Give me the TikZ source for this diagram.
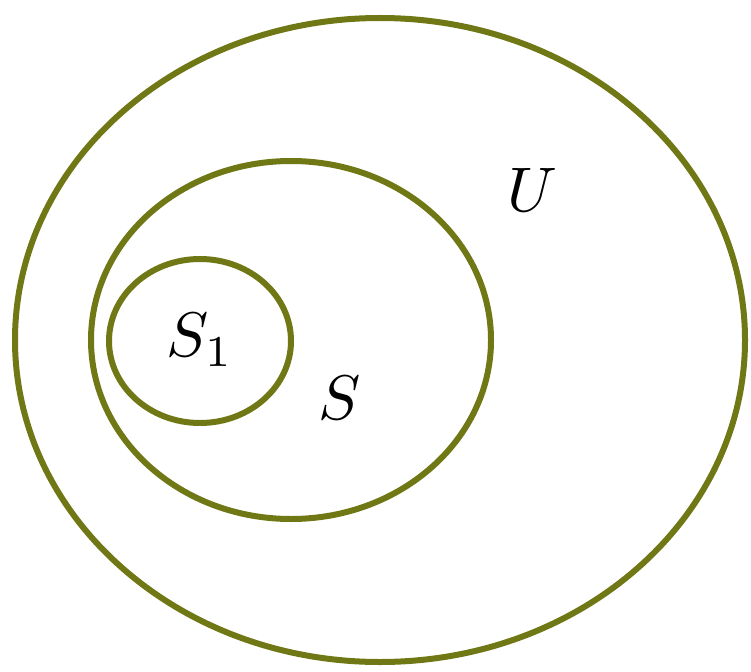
\documentclass[tikz,border=0pt]{standalone}
\begin{document}
\begin{tikzpicture}[x=1pt,y=-1pt,
  setline/.style={draw=olivec, line width=6pt},
  lbl/.style={scale=6.3, inner sep=0pt}]
\definecolor{olivec}{RGB}{112,120,22}
\useasboundingbox (0,0) rectangle (751,671);
\draw[setline] (380,340) ellipse [x radius=365, y radius=322];
\draw[setline] (291,340) ellipse [x radius=200, y radius=179];
\draw[setline] (200,341) ellipse [x radius=91, y radius=82];
\node[lbl] (U) at (532,190) {$U$};
\node[lbl] (S) at (340,398) {$S$};
\node[lbl] (S1) at (200,340) {$S_1$};
\end{tikzpicture}
\end{document}
